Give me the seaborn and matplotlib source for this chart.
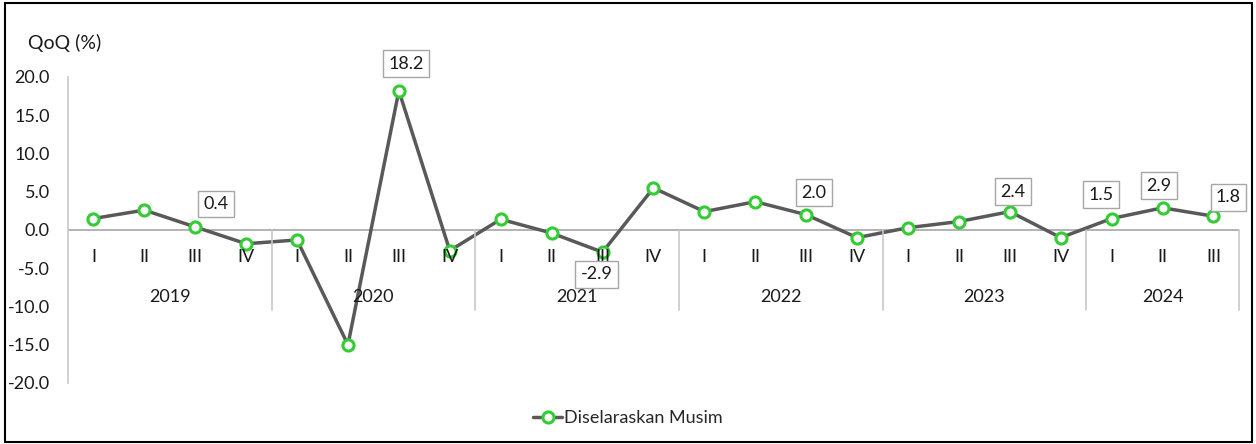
import pandas as pd
import matplotlib.pyplot as plt
import matplotlib.patches as mpatches
import seaborn as sns

# data
years = ['2019', '2020', '2021', '2022', '2023', '2024']
quarters = ['I', 'II', 'III', 'IV']
n_quarters = [4, 4, 4, 4, 4, 3]
values = [1.5, 2.6, 0.4, -1.8,
          -1.3, -15.0, 18.2, -2.7,
          1.4, -0.4, -2.9, 5.5,
          2.4, 3.7, 2.0, -1.0,
          0.3, 1.1, 2.4, -1.0,
          1.5, 2.9, 1.8]
labelled = [2, 6, 10, 14, 18, 20, 21, 22]
series_name = 'Diselaraskan Musim'

q_labels = [quarters[i] for n in n_quarters for i in range(n)]
df = pd.DataFrame({'idx': range(len(values)), 'qoq': values, 'quarter': q_labels})

sns.set_theme(style="white")
plt.rcParams['font.family'] = ['Lato', 'DejaVu Sans']

fig = plt.figure(figsize=(12.56, 4.44), dpi=100)
ax = fig.add_axes([0.0541, 0.1374, 0.9323, 0.6892])

sns.lineplot(data=df, x='idx', y='qoq', ax=ax, color='#595959', linewidth=2.5,
             marker='o', markersize=8, markerfacecolor='white',
             markeredgecolor='#33cc33', markeredgewidth=2.2, label=series_name)

ax.set_xlim(-0.5, len(values) - 0.5)
ax.set_ylim(-20, 20)
ax.set_yticks([-20, -15, -10, -5, 0, 5, 10, 15, 20])
ax.set_yticklabels([f'{v:.1f}' for v in ax.get_yticks()], fontsize=13, color='#1a1a1a')
ax.tick_params(axis='y', length=0, pad=13)
ax.set_xticks([])
ax.set_xlabel('')
ax.set_ylabel('')
for s in ['top', 'right', 'bottom']:
    ax.spines[s].set_visible(False)
ax.spines['left'].set_color('#c8c8c8')
ax.spines['left'].set_linewidth(1.2)

# zero line acts as category axis
ax.axhline(0, color='#a6a6a6', linewidth=1.2, zorder=1)

# quarter and year labels under the zero line
for i, q in enumerate(q_labels):
    ax.text(i, -3.5, q, ha='center', va='center', fontsize=13, color='#1a1a1a')
start = 0
for y, n in zip(years, n_quarters):
    ax.text(start + (n - 1) / 2, -8.8, y, ha='center', va='center', fontsize=13, color='#1a1a1a')
    end = start + n - 0.5
    ax.plot([end, end], [0, -10.5], color='#c8c8c8', linewidth=1.2, clip_on=False)
    start += n

# data labels
offsets = {2: (21, 23), 6: (7, 27), 10: (-6, -22), 14: (8, 22),
           18: (3, 20), 20: (-11, 24), 21: (-4, 22), 22: (15, 19)}
for i in labelled:
    dx, dy = offsets[i]
    ax.annotate(f'{values[i]:.1f}', (i, values[i]), xytext=(dx, dy),
                textcoords='offset pixels', ha='center', va='center',
                fontsize=13, color='#1a1a1a',
                bbox=dict(boxstyle='square,pad=0.3', fc='white', ec='#a6a6a6', lw=1))

fig.text(0.022, 0.903, 'QoQ (%)', fontsize=14, color='#1a1a1a', va='center')

ax.get_legend().remove()
h, l = ax.get_legend_handles_labels()
fig.legend(h, l, loc='center', bbox_to_anchor=(0.5, 0.058), frameon=False,
           fontsize=13, handlelength=1.6, handletextpad=0.1)

fig.add_artist(mpatches.Rectangle((0.004, 0.004), 0.993, 0.99, transform=fig.transFigure,
                                  fill=False, edgecolor='black', linewidth=1.5))

fig.savefig('out.png', dpi=100)
